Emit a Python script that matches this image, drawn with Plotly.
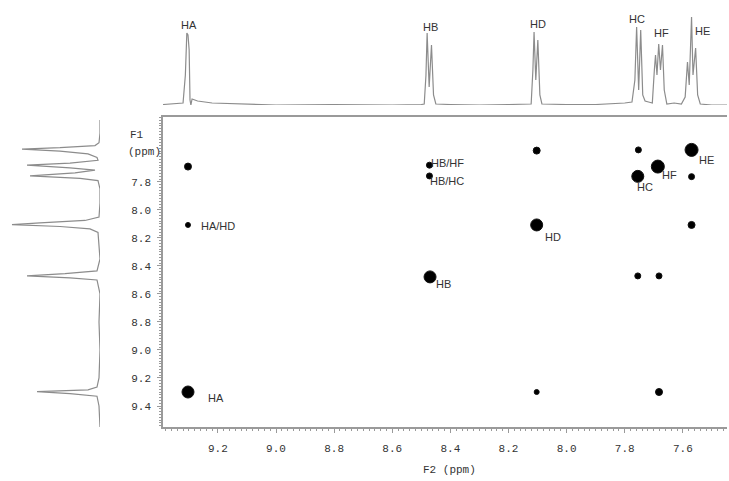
import plotly.graph_objects as go

# ---------------- data ----------------
# 1D proton spectrum on top (F2 projection): ppm and intensity (relative)
top_ppm = [9.389, 9.35, 9.32, 9.312, 9.307, 9.303, 9.299, 9.296, 9.293, 9.289, 9.27, 9.22, 9.10, 9.00,
           8.80, 8.60, 8.50, 8.490, 8.484, 8.480, 8.473, 8.465, 8.458, 8.450, 8.40, 8.30, 8.20,
           8.122, 8.116, 8.112, 8.106, 8.099, 8.092, 8.085, 8.00, 7.90, 7.80,
           7.775, 7.765, 7.759, 7.752, 7.745, 7.738, 7.730, 7.718,
           7.705, 7.698, 7.694, 7.689, 7.683, 7.677, 7.670, 7.664, 7.655, 7.630, 7.605,
           7.592, 7.584, 7.578, 7.570, 7.565, 7.556, 7.549, 7.540, 7.50, 7.448]
top_int = [0.5, 1, 2, 30, 72, 70, 55, 5, 0, 6, 4, 2, 1, 0,
           0.5, 0, 0.5, 1, 30, 72, 18, 60, 10, 1, 0.5, 0, 0.5,
           1, 35, 73, 25, 65, 10, 1, 0.5, 0.5, 2,
           3, 25, 78, 15, 75, 10, 4, 3,
           2, 35, 50, 30, 61, 35, 60, 15, 1, 2, 1,
           8, 43, 20, 88, 30, 57, 10, 1, 0, 0]

# 1D projection on the left (F1 projection)
left_ppm = [7.357, 7.45, 7.52, 7.540, 7.555, 7.565, 7.580, 7.600, 7.625, 7.645, 7.665, 7.680, 7.700,
            7.715, 7.735, 7.757, 7.775, 7.790, 7.85, 7.95, 8.05, 8.075, 8.092, 8.104, 8.118, 8.135,
            8.160, 8.25, 8.35, 8.435, 8.455, 8.470, 8.485, 8.500, 8.60, 8.80, 9.00, 9.20, 9.265,
            9.285, 9.298, 9.312, 9.330, 9.40, 9.55]
left_int = [0, 0, 1, 5, 40, 78, 40, 12, 3, 2, 30, 73, 30,
            5, 25, 70, 20, 2, 0, 0, 1, 15, 60, 88, 40, 10,
            2, 1, 0, 3, 35, 73, 30, 3, 0, 1, 0, 1, 3,
            12, 63, 30, 3, 1, 0]

# 2D COSY cross peaks (F2, F1) and their sizes
peak_f2 = [9.303, 8.470, 8.103, 7.755, 7.686, 7.570,
           9.303, 9.303, 8.472, 8.472, 8.103, 7.753, 7.570, 7.570, 7.755, 7.682, 8.103, 7.682]
peak_f1 = [9.300, 8.478, 8.107, 7.760, 7.690, 7.571,
           7.690, 8.107, 7.680, 7.757, 7.576, 7.571, 7.762, 8.107, 8.471, 8.471, 9.300, 9.300]
peak_size = [12, 12, 12, 12, 13, 13,
             7, 5, 6, 6, 7, 6, 6, 7, 6, 6, 5, 7]

# peak labels in the 2D map
lab_text = ["HB/HF", "HB/HC", "HA/HD", "HB", "HD", "HC", "HF", "HE", "HA"]
lab_f2 = [8.410, 8.410, 9.200, 8.422, 8.047, 7.730, 7.647, 7.520, 9.207]
lab_f1 = [7.665, 7.792, 8.117, 8.526, 8.190, 7.833, 7.749, 7.640, 9.344]

# labels above the 1D spectrum
top_lab_text = ["HA", "HB", "HD", "HC", "HF", "HE"]
top_lab_ppm = [9.300, 8.470, 8.098, 7.758, 7.672, 7.534]
top_lab_int = [80, 78, 81, 86, 72, 74]

x_ticks = [9.2, 9.0, 8.8, 8.6, 8.4, 8.2, 8.0, 7.8, 7.6]
y_ticks = [7.8, 8.0, 8.2, 8.4, 8.6, 8.8, 9.0, 9.2, 9.4]

# ---------------- figure ----------------
W, H = 729, 481
mono = "Liberation Mono"
sans = "Liberation Sans"
tick_col = "#333333"
line_col = "#9a9a9a"
spec_col = "#8c8c8c"

fig = go.Figure()

fig.add_trace(go.Scatter(x=top_ppm, y=top_int, xaxis="x", yaxis="y2", mode="lines",
                         line=dict(color=spec_col, width=1.2), hoverinfo="skip", showlegend=False))
fig.add_trace(go.Scatter(x=left_int, y=left_ppm, xaxis="x2", yaxis="y", mode="lines",
                         line=dict(color=spec_col, width=1.2), hoverinfo="skip", showlegend=False))
fig.add_trace(go.Scatter(x=peak_f2, y=peak_f1, xaxis="x", yaxis="y", mode="markers",
                         marker=dict(color="#000000", size=peak_size, opacity=1,
                                     line=dict(color="#111111", width=1)),
                         showlegend=False))

x_dom = [163 / W, 727 / W]
y_dom = [(H - 427) / H, (H - 117) / H]

fig.update_layout(
    width=W, height=H, autosize=False,
    margin=dict(l=0, r=0, t=0, b=0),
    paper_bgcolor="white", plot_bgcolor="white",
    xaxis=dict(domain=x_dom, range=[9.389, 7.448], anchor="y",
               tickmode="array", tickvals=x_ticks, ticktext=[f"{v:.1f}" for v in x_ticks],
               ticks="outside", ticklen=4, tickcolor=line_col, tickwidth=1,
               minor=dict(dtick=0.02, tick0=7.6, ticks="outside", ticklen=2, tickcolor=line_col),
               showline=True, linecolor=line_col, linewidth=1.5, mirror=True,
               showgrid=False, zeroline=False,
               tickfont=dict(family=mono, size=11, color=tick_col), ticklabelstandoff=6),
    yaxis=dict(domain=y_dom, range=[9.55, 7.336], anchor="x",
               tickmode="array", tickvals=y_ticks, ticktext=[f"{v:.1f}" for v in y_ticks],
               ticks="outside", ticklen=4, tickcolor=line_col, tickwidth=1,
               minor=dict(dtick=0.02, tick0=7.6, ticks="outside", ticklen=2, tickcolor=line_col),
               showline=True, linecolor=line_col, linewidth=1.5, mirror=False,
               showgrid=False, zeroline=False,
               tickfont=dict(family=mono, size=11, color=tick_col), ticklabelstandoff=4),
    yaxis2=dict(domain=[(H - 105) / H, 1.0], range=[0, 105], anchor="x", visible=False),
    xaxis2=dict(domain=[0, 100 / W], range=[100, 0], anchor="y", visible=False),
)

annotations = []
for t, xv, yv in zip(lab_text, lab_f2, lab_f1):
    annotations.append(dict(x=xv, y=yv, xref="x", yref="y", text=t, showarrow=False,
                            xanchor="center", yanchor="middle",
                            font=dict(family=sans, size=11, color="#333333")))
for t, xv, yv in zip(top_lab_text, top_lab_ppm, top_lab_int):
    annotations.append(dict(x=xv, y=yv, xref="x", yref="y2", text=t, showarrow=False,
                            xanchor="center", yanchor="middle",
                            font=dict(family=sans, size=11, color="#333333")))
annotations.append(dict(x=449 / W, y=(H - 470) / H, xref="paper", yref="paper", text="F2 (ppm)",
                        showarrow=False, xanchor="center", yanchor="middle",
                        font=dict(family=mono, size=11, color=tick_col)))
annotations.append(dict(x=128 / W, y=(H - 135) / H, xref="paper", yref="paper", text="F1",
                        showarrow=False, xanchor="left", yanchor="middle",
                        font=dict(family=mono, size=11, color=tick_col)))
annotations.append(dict(x=126 / W, y=(H - 152) / H, xref="paper", yref="paper", text="(ppm)",
                        showarrow=False, xanchor="left", yanchor="middle",
                        font=dict(family=mono, size=11, color=tick_col)))
fig.update_layout(annotations=annotations)

fig.write_html("out.html", config={"displayModeBar": False},
               post_script="document.body.style.margin='0';document.body.style.overflow='hidden';")
